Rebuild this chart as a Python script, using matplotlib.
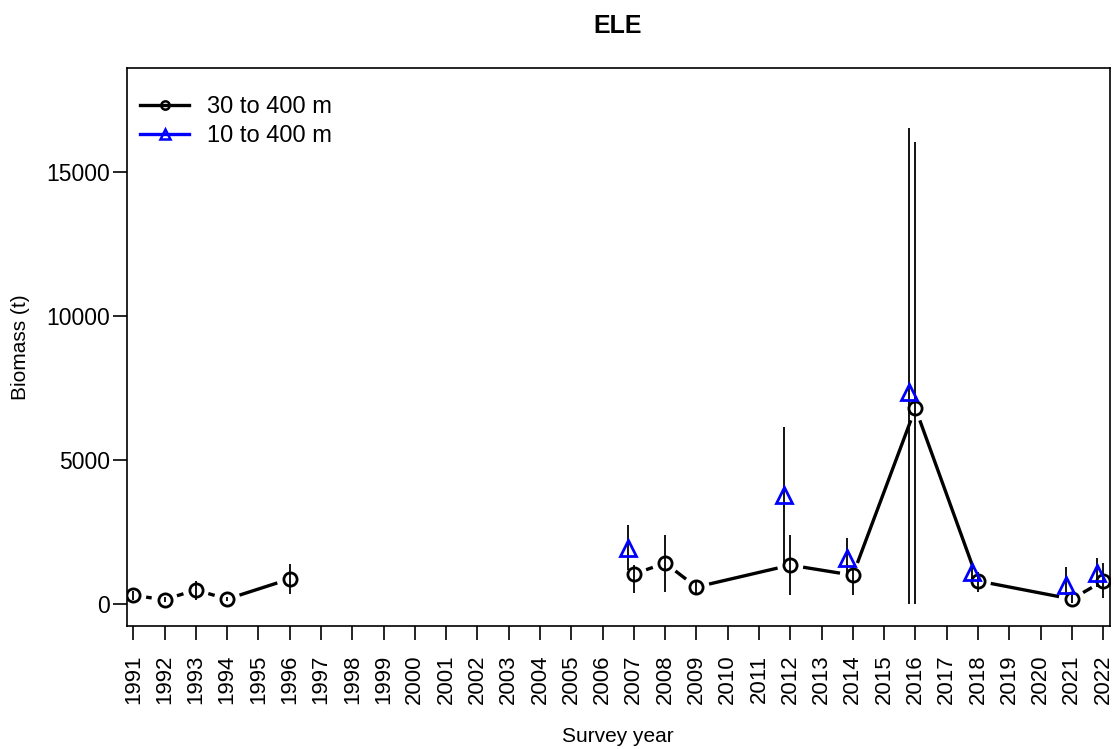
import numpy as np
import matplotlib
matplotlib.use("Agg")
import matplotlib.pyplot as plt
from matplotlib.lines import Line2D

plt.rcParams['font.family'] = ['Liberation Sans', 'DejaVu Sans']

# ---- data ----
years_a = [1991, 1992, 1993, 1994, 1996, 2007, 2008, 2009, 2012, 2014, 2016, 2018, 2021, 2022]
biom_a = [300, 150, 490, 170, 870, 1040, 1420, 590, 1350, 1000, 6800, 800, 170, 800]
lo_a = [150, 80, 140, 100, 350, 380, 420, 310, 310, 310, 0, 420, 50, 200]
hi_a = [450, 250, 800, 260, 1390, 1350, 2400, 830, 2400, 1290, 16040, 1100, 300, 1420]
break_after_year = 1996  # line is broken between 1996 and 2007

years_b = [2007, 2012, 2014, 2016, 2018, 2021, 2022]
biom_b = [1940, 3780, 1600, 7360, 1110, 660, 1070]
lo_b = [1180, 1420, 1080, 0, 850, 300, 600]
hi_b = [2740, 6150, 2290, 16530, 1400, 1290, 1600]

labels = ["30 to 400 m", "10 to 400 m"]
title = "ELE"
xticks = list(range(1991, 2023))
yticks = [0, 5000, 10000, 15000]

# ---- figure ----
W, H = 1114, 749
fig = plt.figure(figsize=(W / 100, H / 100), dpi=100)
L, R, T, B = 127, 1110, 68, 626
ax = fig.add_axes([L / W, 1 - B / H, (R - L) / W, (B - T) / H])
ax.set_xlim(1990.8, 2022.22)
ax.set_ylim(-764, 18611)

off_b = -0.2
xb = np.array(years_b) + off_b

# connecting line with gaps near points (R type="b")
gap = 13.0
def draw_gapped(xs, ys):
    pts = ax.transData.transform(np.column_stack([xs, ys]))
    inv = ax.transData.inverted()
    for p0, p1 in zip(pts[:-1], pts[1:]):
        d = p1 - p0
        n = np.hypot(*d)
        if n <= 2 * gap:
            continue
        u = d / n
        q0 = inv.transform(p0 + u * gap)
        q1 = inv.transform(p1 - u * gap)
        ax.plot([q0[0], q1[0]], [q0[1], q1[1]], color='black', lw=2.4,
                solid_capstyle='butt', zorder=2)

ya = np.array(years_a)
ba = np.array(biom_a)
m1 = ya <= break_after_year
draw_gapped(ya[m1], ba[m1])
draw_gapped(ya[~m1], ba[~m1])

# error bars
ax.vlines(years_a, lo_a, hi_a, color='black', lw=1.3, zorder=3)
ax.vlines(xb, lo_b, hi_b, color='black', lw=1.3, zorder=3)

# markers
ax.plot(years_a, biom_a, ls='none', marker='o', ms=9.5, mfc='none', mec='black', mew=2.0, zorder=4)
ax.plot(xb, biom_b, ls='none', marker='^', ms=11, mfc='none', mec='blue', mew=2.0, zorder=5)

# axes styling
for s in ax.spines.values():
    s.set_linewidth(1.2)
ax.set_xticks(xticks)
ax.set_xticklabels([str(y) for y in xticks], rotation=90, fontsize=16)
ax.set_yticks(yticks)
ax.set_yticklabels([str(v) for v in yticks], fontsize=16.5)
ax.tick_params(axis='x', direction='out', length=10, width=1.2, pad=10.5)
ax.tick_params(axis='y', direction='out', length=10, width=1.2, pad=2)
ax.set_ylabel("Biomass (t)", fontsize=15, labelpad=12)

fig.text(618 / W, 1 - 737 / H, "Survey year", ha='center', va='center', fontsize=15)
fig.text(618 / W, 1 - 26 / H, title, ha='center', va='center', fontsize=18, fontweight='bold')

handles = [
    Line2D([], [], color='black', lw=2.4, marker='o', ms=6, mfc='none', mec='black', mew=1.8),
    Line2D([], [], color='blue', lw=2.4, marker='^', ms=7, mfc='none', mec='blue', mew=1.8),
]
ax.legend(handles, labels, loc='upper left', bbox_to_anchor=(0.013, 0.95),
          frameon=False, fontsize=17, handlelength=2.1, handletextpad=0.76,
          labelspacing=0.32, borderpad=0, borderaxespad=0)

fig.savefig("out.png", dpi=100)
